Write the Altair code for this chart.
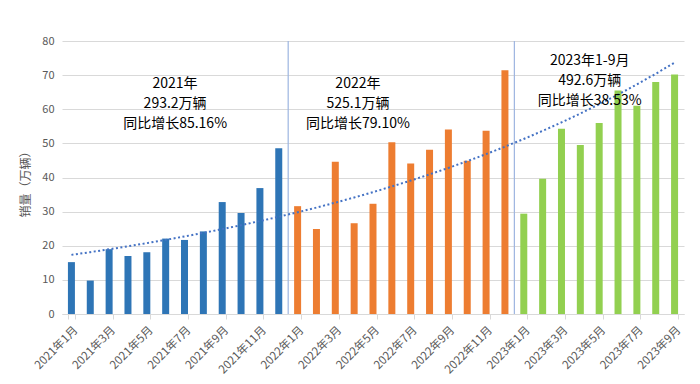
import altair as alt
import pandas as pd

years = ["2021", "2022", "2023"]
sales_2021 = [15.2, 9.8, 19.0, 17.0, 18.1, 22.1, 21.7, 24.2, 32.8, 29.6, 36.9, 48.6]
sales_2022 = [31.6, 24.9, 44.6, 26.6, 32.3, 50.3, 44.1, 48.1, 54.1, 44.9, 53.7, 71.4]
sales_2023 = [29.4, 39.6, 54.3, 49.5, 56.0, 65.5, 61.0, 68.0, 70.2]
series = [sales_2021, sales_2022, sales_2023]
bar_colors = ["#2e75b6", "#ed7d31", "#92d050"]

ann_lines = [
    ["2021年", "293.2万辆", "同比增长85.16%"],
    ["2022年", "525.1万辆", "同比增长79.10%"],
    ["2023年1-9月", "492.6万辆", "同比增长38.53%"],
]

rows = []
idx = 0
for y, vals in zip(years, series):
    for m, v in enumerate(vals, start=1):
        idx += 1
        rows.append({"label": f"{y}年{m}月", "year": y, "idx": idx, "val": v})
df = pd.DataFrame(rows)
labels = list(df["label"])
n = len(labels)
odd_labels = labels[::2]

# year boundaries (between last month of one year and first of next)
bounds = []
c = 0
for vals in series[:-1]:
    c += len(vals)
    bounds.append(c + 0.5)
df_b = pd.DataFrame({"b": bounds})

# annotation placement (layout)
ann_x = [6.5, 16.2, 28.5]
ann_top = [67.4, 67.4, 74.1]
ann_rows = []
for lines, ax, at in zip(ann_lines, ann_x, ann_top):
    for k, t in enumerate(lines):
        ann_rows.append({"x": ax, "y": at - k * 5.9, "t": t})
df_a = pd.DataFrame(ann_rows)

FONT = "Noto Sans CJK SC"
GRAY = "#595959"
yscale = alt.Scale(domain=[0, 80], nice=False)
xq = alt.Scale(domain=[0.5, n + 0.5], nice=False, zero=False)


def yaxis():
    return alt.Axis(values=list(range(0, 81, 10)), title="销量（万辆）",
                    titleFont=FONT, titleFontSize=12, titleColor=GRAY,
                    titleFontWeight="normal", titleX=-37, titleY=140,
                    titleAngle=-90, titleAlign="center", titleBaseline="middle",
                    labelFont=FONT, labelFontSize=11, labelColor=GRAY,
                    labelPadding=8, ticks=False, domain=False,
                    labelOverlap=False, gridColor="#d9d9d9")


bars = alt.Chart(df).mark_bar(size=7).encode(
    x=alt.X("label:N", sort=labels,
            scale=alt.Scale(paddingInner=0.62, paddingOuter=0.31),
            axis=alt.Axis(values=odd_labels, tickBand="extent", labelAngle=-45,
                          title=None, labelFont=FONT, labelFontSize=11.5,
                          labelColor=GRAY, domainColor="#d9d9d9", tickColor="#d9d9d9",
                          tickSize=5, labelPadding=5, grid=False)),
    y=alt.Y("val:Q", scale=yscale, axis=yaxis()),
    color=alt.Color("year:N", scale=alt.Scale(domain=years, range=bar_colors), legend=None),
)

# Exponential trendline: least squares on ln(y), as in a spreadsheet trendline
trend = (
    alt.Chart(df)
    .transform_calculate(ly="log(datum.val)")
    .transform_joinaggregate(mx="mean(idx)", my="mean(ly)")
    .transform_calculate(dxy="(datum.idx - datum.mx) * (datum.ly - datum.my)",
                         dxx="(datum.idx - datum.mx) * (datum.idx - datum.mx)")
    .transform_joinaggregate(sxy="sum(dxy)", sxx="sum(dxx)")
    .transform_calculate(fit="exp(datum.my + datum.sxy / datum.sxx * (datum.idx - datum.mx))")
    .mark_line(color="#4472c4", strokeWidth=2, strokeDash=[2, 2.5])
    .encode(
        x=alt.X("idx:Q", scale=xq, axis=None),
        y=alt.Y("fit:Q", scale=yscale, axis=yaxis()),
    )
)

rules = alt.Chart(df_b).mark_rule(color="#9db5e0", strokeWidth=1.2).encode(
    x=alt.X("b:Q", scale=xq, axis=None),
)

texts = alt.Chart(df_a).mark_text(font=FONT, fontSize=14, color="#000000").encode(
    x=alt.X("x:Q", scale=xq, axis=None),
    y=alt.Y("y:Q", scale=yscale, axis=yaxis()),
    text="t:N",
)

chart = alt.layer(bars, rules, trend, texts).resolve_scale(x="independent").properties(
    width=622, height=273,
    autosize=alt.AutoSizeParams(type="none"),
    padding={"left": 54, "top": 33, "right": 8, "bottom": 62},
).configure_view(stroke=None)

chart.save("out.html", embed_options={"renderer": "svg", "actions": False})
